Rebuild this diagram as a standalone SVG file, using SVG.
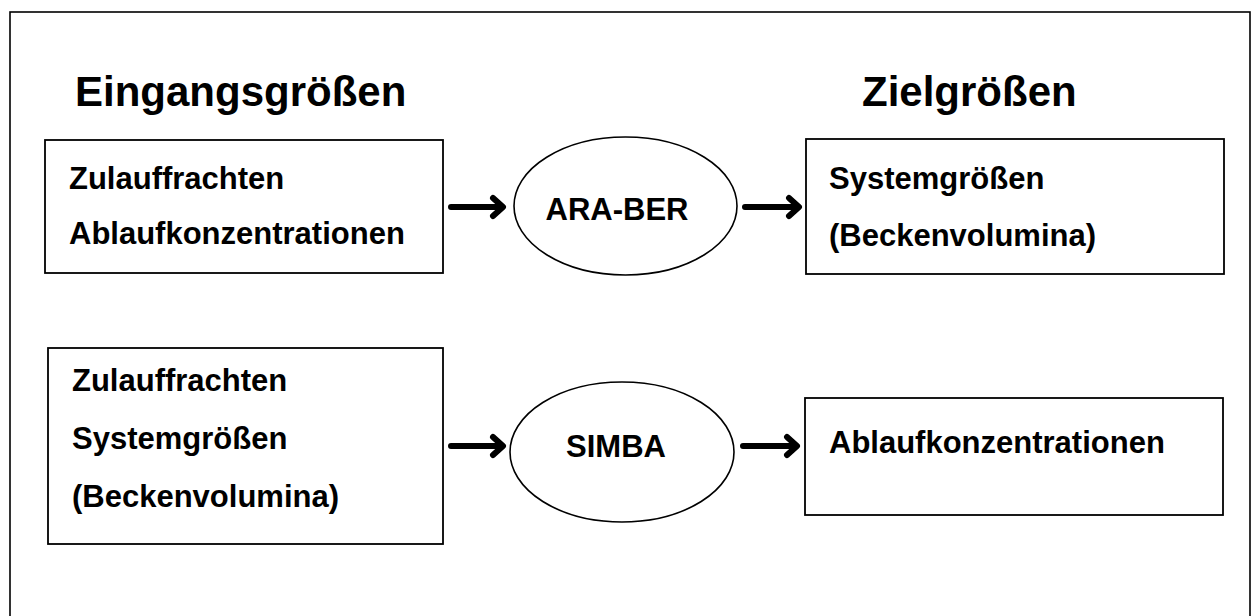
<svg xmlns="http://www.w3.org/2000/svg" width="1252" height="616" viewBox="0 0 1252 616">
<style>
  .frame { fill: none; stroke: #000; stroke-width: 1.6; }
  .box { fill: #fff; stroke: #000; stroke-width: 1.8; }
  .ell { fill: #fff; stroke: #000; stroke-width: 1.6; }
  .title { font-family: "Liberation Sans", Arial, sans-serif; font-weight: bold; font-size: 42px; fill: #000; }
  .lbl { font-family: "Liberation Sans", Arial, sans-serif; font-weight: bold; font-size: 31px; fill: #000; }
  .arrow { fill: none; stroke: #000; stroke-width: 6; stroke-linecap: round; stroke-linejoin: round; }
</style>
<rect width="1252" height="616" fill="#fff"/>
<rect class="frame" x="10" y="12" width="1240" height="640"/>
<g id="titles">
  <text class="title" x="75" y="106">Eingangsgrößen</text>
  <text class="title" x="862" y="106">Zielgrößen</text>
</g>
<g id="in1">
  <rect class="box" x="45" y="140" width="398" height="133"/>
  <text class="lbl" x="69" y="189">Zulauffrachten</text>
  <text class="lbl" x="69" y="244">Ablaufkonzentrationen</text>
</g>
<g id="araber">
  <ellipse class="ell" cx="625.5" cy="206" rx="111.5" ry="69"/>
  <text class="lbl" x="617" y="220" text-anchor="middle">ARA-BER</text>
</g>
<g id="out1">
  <rect class="box" x="806" y="139" width="418" height="135"/>
  <text class="lbl" x="829" y="189">Systemgrößen</text>
  <text class="lbl" x="829" y="246">(Beckenvolumina)</text>
</g>
<g id="in2">
  <rect class="box" x="48" y="348" width="395" height="196"/>
  <text class="lbl" x="72" y="391">Zulauffrachten</text>
  <text class="lbl" x="72" y="449">Systemgrößen</text>
  <text class="lbl" x="72" y="507">(Beckenvolumina)</text>
</g>
<g id="simba">
  <ellipse class="ell" cx="622" cy="452" rx="112" ry="70"/>
  <text class="lbl" x="616" y="457" text-anchor="middle">SIMBA</text>
</g>
<g id="out2">
  <rect class="box" x="805" y="398" width="418" height="117"/>
  <text class="lbl" x="829" y="453">Ablaufkonzentrationen</text>
</g>
<g id="connectors">
  <path class="arrow" d="M451 207 H502 M493 198 L503 207 L493 216"/>
  <path class="arrow" d="M745 207 H798 M789 198 L799 207 L789 216"/>
  <path class="arrow" d="M451 446 H502 M493 437 L503 446 L493 455"/>
  <path class="arrow" d="M743 446 H796 M787 437 L797 446 L787 455"/>
</g>
</svg>
